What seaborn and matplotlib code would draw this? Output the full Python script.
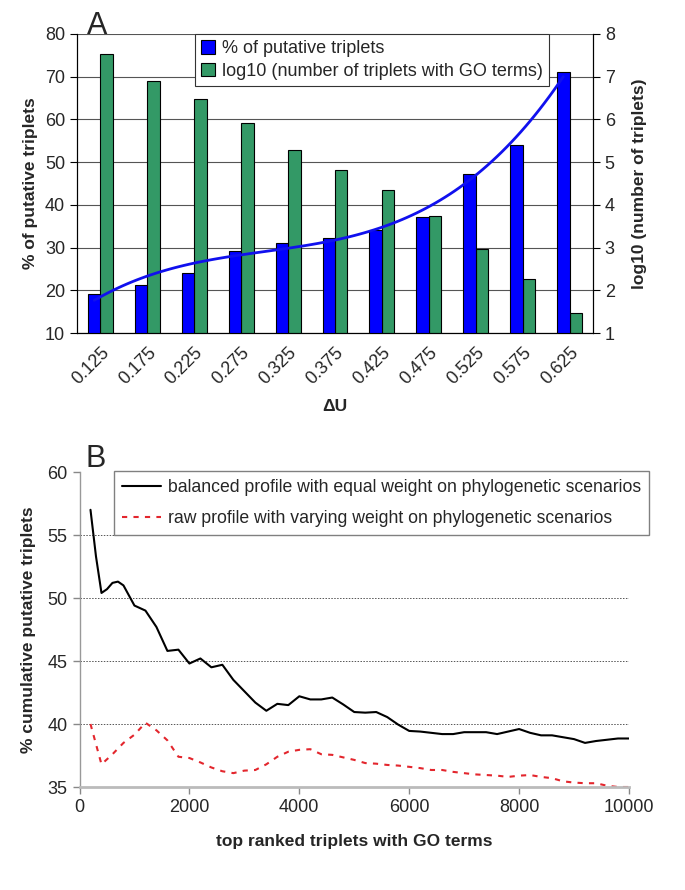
import numpy as np
import pandas as pd
import matplotlib
matplotlib.use("Agg")
import matplotlib.pyplot as plt
import seaborn as sns
from matplotlib.patches import Patch
from matplotlib.lines import Line2D

# panel A data
du_labels = ["0.125", "0.175", "0.225", "0.275", "0.325", "0.375",
             "0.425", "0.475", "0.525", "0.575", "0.625"]
pct_putative = [19.1, 21.2, 24.0, 29.2, 31.1, 32.3, 34.1, 37.2, 47.2, 54.0, 71.1]
log_go = [7.53, 6.90, 6.48, 5.91, 5.28, 4.82, 4.34, 3.75, 2.97, 2.26, 1.46]

# panel B data
rank_bal = [200, 300, 400, 500, 600, 700, 800, 900, 1000, 1200, 1400, 1600, 1800,
            2000, 2200, 2400, 2600, 2800, 3000, 3200, 3400, 3600, 3800, 4000,
            4200, 4400, 4600, 4800, 5000, 5200, 5400, 5600, 5800, 6000, 6200,
            6400, 6600, 6800, 7000, 7200, 7400, 7600, 7800, 8000, 8200, 8400,
            8600, 8800, 9000, 9200, 9400, 9600, 9800, 10000]
balanced = [57.0, 53.3, 50.4, 50.7, 51.2, 51.3, 51.0, 50.2, 49.4, 49.0, 47.7, 45.8, 45.9,
            44.8, 45.2, 44.5, 44.7, 43.5, 42.6, 41.7, 41.05, 41.6, 41.5, 42.2,
            41.95, 41.95, 42.1, 41.55, 40.95, 40.9, 40.95, 40.55, 39.95, 39.45, 39.4,
            39.3, 39.2, 39.2, 39.35, 39.35, 39.35, 39.2, 39.4, 39.6, 39.3, 39.1,
            39.1, 38.95, 38.8, 38.5, 38.65, 38.75, 38.85, 38.85]
rank_raw = [200, 300, 400, 600, 800, 1000, 1200, 1400, 1600, 1800, 2000, 2200, 2400,
            2600, 2800, 3000, 3200, 3400, 3600, 3800, 4000, 4200, 4400, 4600, 4800,
            5000, 5200, 5400, 5600, 5800, 6000, 6200, 6400, 6600, 6800, 7000, 7200,
            7400, 7600, 7800, 8000, 8200, 8400, 8600, 8800, 9000, 9200, 9400, 9600,
            9800, 10000]
raw = [40.0, 38.4, 36.8, 37.6, 38.5, 39.15, 40.1, 39.5, 38.7, 37.4, 37.3, 36.95, 36.55,
       36.25, 36.1, 36.3, 36.35, 36.8, 37.4, 37.8, 37.95, 38.0, 37.6, 37.55, 37.35,
       37.15, 36.9, 36.85, 36.75, 36.7, 36.6, 36.5, 36.35, 36.35, 36.2, 36.1, 36.0,
       35.95, 35.9, 35.8, 35.9, 35.95, 35.8, 35.7, 35.45, 35.35, 35.3, 35.3, 35.1,
       35.0, 35.0]

BLUE = "#0000ff"
GREEN = "#339966"
RED = "#e3262d"

sns.set_style("white")
plt.rcParams["font.family"] = ["Liberation Sans", "DejaVu Sans"]

fig = plt.figure(figsize=(6.85, 8.9), dpi=100)

# ---- panel A ----
ax = fig.add_axes([77 / 685, 1 - 333 / 890, 516 / 685, 299 / 890])
ax2 = ax.twinx()
ax.set_zorder(ax2.get_zorder() + 1)
ax.patch.set_visible(False)

bw = 0.265
sns.barplot(x=du_labels, y=log_go, ax=ax2, color=GREEN, width=bw,
            edgecolor="black", linewidth=0.8, saturation=1)
for p in ax2.patches:
    p.set_x(p.get_x() + bw / 2)
sns.barplot(x=du_labels, y=pct_putative, ax=ax, color=BLUE, width=bw,
            edgecolor="black", linewidth=0.8, saturation=1)
for p in ax.patches:
    p.set_x(p.get_x() - bw / 2)

pos = np.arange(len(du_labels)) - bw / 2
sns.regplot(x=pos, y=np.array(pct_putative), order=3, ci=None, scatter=False,
            ax=ax, line_kws=dict(color="#1010ee", lw=2))

ax.set_xlim(-0.5, len(du_labels) - 0.5)
ax.set_ylim(10, 80)
ax.set_yticks(range(10, 81, 10))
ax2.set_ylim(1, 8)
ax2.set_yticks(range(1, 9))
ax2.yaxis.grid(True, color="#555555", lw=0.8)
ax2.set_axisbelow(True)
ax.grid(False)

ax.set_xticks(range(len(du_labels)))
ax.set_xticklabels(du_labels, rotation=45, ha="right", rotation_mode="anchor")
ax.set_xticks(np.arange(-0.5, len(du_labels)), minor=True)
ax.tick_params(axis="x", which="major", length=0, pad=8, labelsize=13)
ax.tick_params(axis="x", which="minor", length=5, width=0.8, color="black", direction="out")
ax.tick_params(axis="y", length=5, width=0.8, color="black", labelsize=13, left=True)
ax2.tick_params(axis="y", length=5, width=0.8, color="black", labelsize=13, right=True)

for a in (ax, ax2):
    for s in a.spines.values():
        s.set_color("black")
        s.set_linewidth(0.8)
    a.spines["top"].set_visible(False)

ax.set_xlabel("ΔU", fontsize=12.5, fontweight="bold", labelpad=8)
ax.set_ylabel("% of putative triplets", fontsize=12.5, fontweight="bold", labelpad=5)
ax2.set_ylabel("log10 (number of triplets)", fontsize=12.5, fontweight="bold", labelpad=12)
ax2.set_xlabel("")

hA = [Patch(facecolor=BLUE, edgecolor="black", lw=0.8),
      Patch(facecolor=GREEN, edgecolor="black", lw=0.8)]
legA = ax.legend(hA, ["% of putative triplets", "log10 (number of triplets with GO terms)"],
                 loc="upper left", bbox_to_anchor=(0.229, 1.0), fontsize=13,
                 frameon=True, fancybox=False, edgecolor="#333333", framealpha=1,
                 borderaxespad=0, borderpad=0.35, labelspacing=0.3,
                 handlelength=0.75, handleheight=0.75, handletextpad=0.4)
legA.get_frame().set_linewidth(0.8)

fig.text(87 / 685, 1 - 34 / 890, "A", fontsize=22, ha="left", va="baseline")

# ---- panel B ----
axb = fig.add_axes([79.5 / 685, 1 - 787 / 890, 549.5 / 685, 315 / 890])
sns.lineplot(x=rank_bal, y=balanced, ax=axb, color="black", lw=1.5)
sns.lineplot(x=rank_raw, y=raw, ax=axb, color=RED, lw=1.5, linestyle=(0, (2.5, 3)))

axb.set_xlim(0, 10000)
axb.set_ylim(35, 60)
axb.set_xticks(range(0, 10001, 2000))
axb.set_yticks(range(35, 61, 5))
axb.yaxis.grid(True, ls=(0, (1.5, 1.5)), color="#555555", lw=0.7)
glines = axb.get_ygridlines()
glines[0].set_visible(False)
glines[-1].set_visible(False)
axb.xaxis.grid(False)

for s in ["top", "right"]:
    axb.spines[s].set_visible(False)
axb.spines["left"].set_color("#999999")
axb.spines["left"].set_linewidth(1.0)
axb.spines["bottom"].set_color("#bbbbbb")
axb.spines["bottom"].set_linewidth(2.0)
axb.tick_params(axis="both", length=5, width=1, color="#888888", labelsize=13,
                left=True, bottom=True)

axb.set_xlabel("top ranked triplets with GO terms", fontsize=12.5, fontweight="bold", labelpad=13)
axb.set_ylabel("% cumulative putative triplets", fontsize=12.5, fontweight="bold", labelpad=8)

hB = [Line2D([], [], color="black", lw=1.5),
      Line2D([], [], color=RED, lw=1.5, linestyle=(0, (2.5, 3)))]
legB = axb.legend(hB, ["balanced profile with equal weight on phylogenetic scenarios",
                       "raw profile with varying weight on phylogenetic scenarios"],
                  loc="upper left", bbox_to_anchor=(0.063, 1.003), fontsize=12.7,
                  frameon=True, fancybox=False, edgecolor="#808080", framealpha=1,
                  borderaxespad=0, borderpad=0.45, labelspacing=0.8,
                  handlelength=2.2, handletextpad=0.4)
legB.get_frame().set_linewidth(1.0)

fig.text(86 / 685, 1 - 467 / 890, "B", fontsize=22, ha="left", va="baseline")

fig.savefig("out.png", dpi=100)
